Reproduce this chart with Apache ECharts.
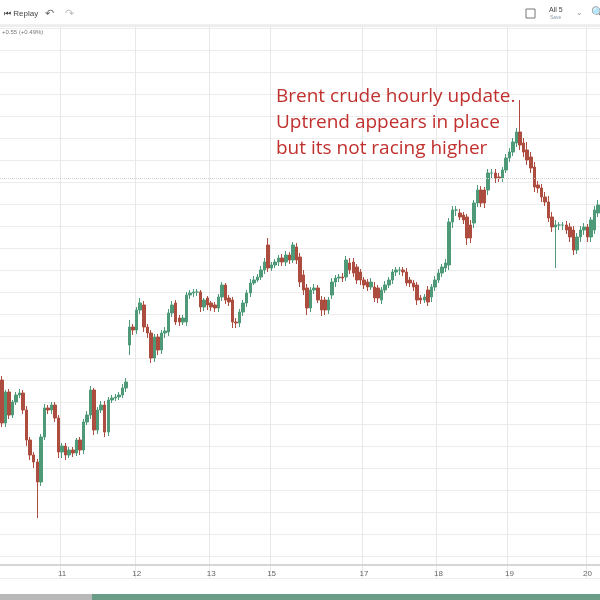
<!DOCTYPE html>
<html><head><meta charset="utf-8">
<script src="https://cdn.jsdelivr.net/npm/echarts@6/dist/echarts.min.js"></script>
<style>html,body{margin:0;padding:0;background:#fff}#c{width:600px;height:600px}</style>
</head><body><div id="c"></div>
<script>
const dayLabels = {17:'11',38:'12',59:'13',76:'15',102:'17',123:'18',143:'19',165:'20'};
const openV = [220,177,208,185,198,205,207,190,160,145,
138,118,163,192,190,195,182,148,154,145,
150,147,160,150,178,185,210,170,190,195,
168,200,202,203,205,212,255,273,270,290,
295,273,267,242,263,250,267,268,287,297,
282,278,278,305,307,308,308,293,302,297,
295,292,303,315,302,300,278,277,288,297,
307,317,320,323,330,355,332,335,338,342,
338,345,340,353,343,325,312,292,310,312,
300,300,290,305,318,322,323,323,337,338,
333,328,320,318,313,313,312,300,310,315,
320,328,330,330,328,320,317,315,302,300,
310,303,313,320,327,332,335,378,390,387,
385,383,375,377,397,410,410,410,427,427,
423,422,430,442,448,457,468,457,450,443,
433,415,412,403,398,383,373,375,375,375,
373,370,350,363,370,373,363,370,387];
const closeV = [177,208,185,198,205,207,190,160,145,138,
118,163,192,190,195,182,148,154,145,150,
147,160,150,178,185,210,170,190,195,168,
200,202,203,205,212,218,273,270,290,297,
273,267,242,263,250,267,269,287,295,278,
278,282,305,307,308,308,293,300,295,293,
292,303,315,300,298,278,277,288,297,307,
317,320,323,330,338,332,335,338,342,338,
345,340,355,340,318,310,292,310,312,300,
290,290,300,318,322,323,322,340,330,327,
320,320,315,313,318,302,302,310,315,320,
328,330,330,328,317,317,313,300,300,303,
298,313,320,327,333,337,378,390,390,383,
380,362,362,397,410,397,397,427,427,422,
422,430,442,448,458,468,455,448,440,432,
413,412,403,398,382,373,375,375,375,370,
363,350,363,370,373,363,380,390,395];
const highV = [224,210,211,200,208,211,210,194,163,148,
141,166,196,195,198,198,185,157,157,153,
153,162,163,181,189,214,212,193,199,199,
203,205,206,208,216,222,280,276,293,302,
299,276,270,266,266,270,273,291,299,300,
285,285,308,310,311,311,310,302,304,299,
298,306,318,317,305,303,282,291,300,310,
321,324,326,334,342,362,338,341,345,346,
349,348,358,357,347,330,316,313,316,315,
304,303,303,322,325,326,327,344,342,342,
336,331,323,321,322,318,315,313,319,323,
331,333,333,333,332,323,320,318,305,306,
314,316,324,331,336,341,382,394,394,391,
388,386,380,400,415,414,413,431,431,431,
427,433,446,452,462,472,500,462,458,448,
438,419,416,408,404,388,380,378,378,379,
377,374,367,374,377,376,383,394,400];
const lowV = [173,173,181,182,195,202,186,154,140,132,
82,114,160,186,186,178,142,142,140,142,
143,144,145,146,175,181,165,166,187,163,
164,197,199,200,202,208,245,265,266,286,
268,262,237,238,245,246,262,264,283,275,
274,275,274,301,303,304,288,289,290,289,
288,288,299,296,294,272,272,273,284,293,
303,315,318,320,326,328,329,332,334,334,
334,336,337,336,313,305,285,288,306,297,
284,285,286,301,313,318,318,319,326,323,
316,315,311,309,310,298,297,296,307,312,
316,324,325,324,314,313,309,295,296,297,
294,298,309,317,323,328,330,372,384,380,
376,355,357,372,393,393,392,405,422,417,
418,418,427,438,444,453,450,443,435,427,
408,407,398,394,378,368,332,370,370,366,
358,345,346,358,365,358,358,366,383];
const noteLines = ['Brent crude hourly update.','Uptrend appears in place','but its not racing higher'];
const changeText = '+0.55 (+0.49%)';

const categories = openV.map((_, i) => dayLabels[i] || '');
const candles = openV.map((o, i) => [o, closeV[i], lowV[i], highV[i]]);

const chart = echarts.init(document.getElementById('c'), null, {renderer:'canvas'});
const txt = {fontFamily:'Liberation Sans, Arial, sans-serif'};
chart.setOption({
  animation:false,
  backgroundColor:'#fff',
  grid:{left:0,right:0,top:26,bottom:22},
  xAxis:{type:'category',data:categories,boundaryGap:true,offset:-13,
    axisLine:{lineStyle:{color:'#c8c8c8',width:1.5}},axisTick:{show:false},
    axisLabel:{interval:(i,v)=>v!=='',color:'#666',fontSize:8,margin:5,fontFamily:'Liberation Sans'},
    splitLine:{show:true,interval:(i,v)=>v!=='',lineStyle:{color:'#e8e8e8'}}},
  yAxis:{type:'value',min:22,max:574,interval:22,axisLabel:{show:false},axisLine:{show:false},axisTick:{show:false},
    splitLine:{lineStyle:{color:'#ececec'}}},
  series:[{type:'candlestick',data:candles,barMaxWidth:3.2,barWidth:3,
    itemStyle:{color:'#4e9a78',color0:'#ad4d3f',borderColor:'#4e9a78',borderColor0:'#ad4d3f',borderWidth:1},
    markLine:{silent:true,symbol:'none',label:{show:false},data:[{yAxis:422}],lineStyle:{color:'#cfcfcf',type:'dotted',width:1}}}],
  graphic:[
    {type:'rect',shape:{x:0,y:566,width:600,height:14},style:{fill:'#fff'},z:-1},
    {type:'rect',shape:{x:0,y:0,width:600,height:25},style:{fill:'#fff'},z:10},
    {type:'line',shape:{x1:0,y1:25,x2:600,y2:25},style:{stroke:'#e0e0e0',lineWidth:1},z:10},
    {type:'text',x:4,y:10,style:Object.assign({text:'⏮ Replay',fill:'#444',fontSize:8},txt),z:11},
    {type:'text',x:45,y:8,style:Object.assign({text:'↶',fill:'#666',fontSize:11},txt),z:11},
    {type:'text',x:65,y:8,style:Object.assign({text:'↷',fill:'#bbb',fontSize:11},txt),z:11},
    {type:'rect',shape:{x:526,y:9,width:9,height:9},style:{fill:'none',stroke:'#777',lineWidth:1},z:11},
    {type:'text',x:549,y:7,style:Object.assign({text:'All 5',fill:'#444',fontSize:7},txt),z:11},
    {type:'text',x:550,y:15,style:Object.assign({text:'Save',fill:'#89a',fontSize:5},txt),z:11},
    {type:'text',x:576,y:9,style:Object.assign({text:'⌄',fill:'#999',fontSize:8},txt),z:11},
    {type:'text',x:591,y:7,style:Object.assign({text:'🔍',fill:'#666',fontSize:11},txt),z:11},
    {type:'text',x:2,y:29,style:Object.assign({text:changeText,fill:'#777',fontSize:6},txt),z:11},
    {type:'text',x:276,y:84,style:Object.assign({text:noteLines.join('\n'),fill:'#c0302e',fontSize:19,lineHeight:26,fontFamily:'Open Sans'}),z:12},
    {type:'rect',shape:{x:0,y:594,width:92,height:6},style:{fill:'#b9b9b9'},z:11},
    {type:'rect',shape:{x:92,y:594,width:508,height:6},style:{fill:'#6a9c88'},z:11}
  ]
});
</script></body></html>
